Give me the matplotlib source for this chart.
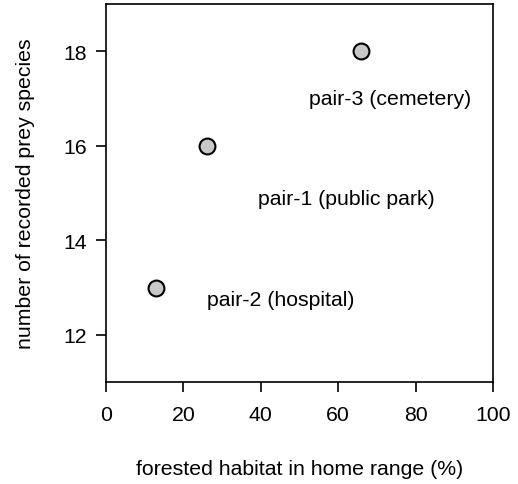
import matplotlib
matplotlib.use('Agg')
import matplotlib.pyplot as plt

plt.rcParams['font.family'] = ['Liberation Sans', 'DejaVu Sans']

# data
forest = [26, 13, 66]
prey = [16, 13, 18]
pairs = ['pair-1 (public park)', 'pair-2 (hospital)', 'pair-3 (cemetery)']
label_x = [62, 45.2, 73.4]
label_y = [14.88, 12.75, 17.0]

fig = plt.figure(figsize=(5.18, 4.85), dpi=100)
ax = fig.add_axes([0.2046, 0.2103, 0.7471, 0.7794])

ax.scatter(forest, prey, s=130, c='#c8c8c8', edgecolors='black', linewidths=1.5, zorder=3)
for lx, ly, name in zip(label_x, label_y, pairs):
    ax.text(lx, ly, name, ha='center', va='center', fontsize=15.3)

ax.set_xlim(0, 100)
ax.set_ylim(11, 19)
ax.set_xticks([0, 20, 40, 60, 80, 100])
ax.set_yticks([12, 14, 16, 18])
ax.tick_params(direction='out', length=7, width=1.2, labelsize=15.3)
ax.tick_params(axis='x', pad=9.5)
ax.tick_params(axis='y', pad=7)
for sp in ax.spines.values():
    sp.set_linewidth(1.2)

ax.set_xlabel('forested habitat in home range (%)', fontsize=15.3, labelpad=25)
ax.set_ylabel('number of recorded prey species', fontsize=15.3, labelpad=20)

fig.savefig('out.png', dpi=100)
